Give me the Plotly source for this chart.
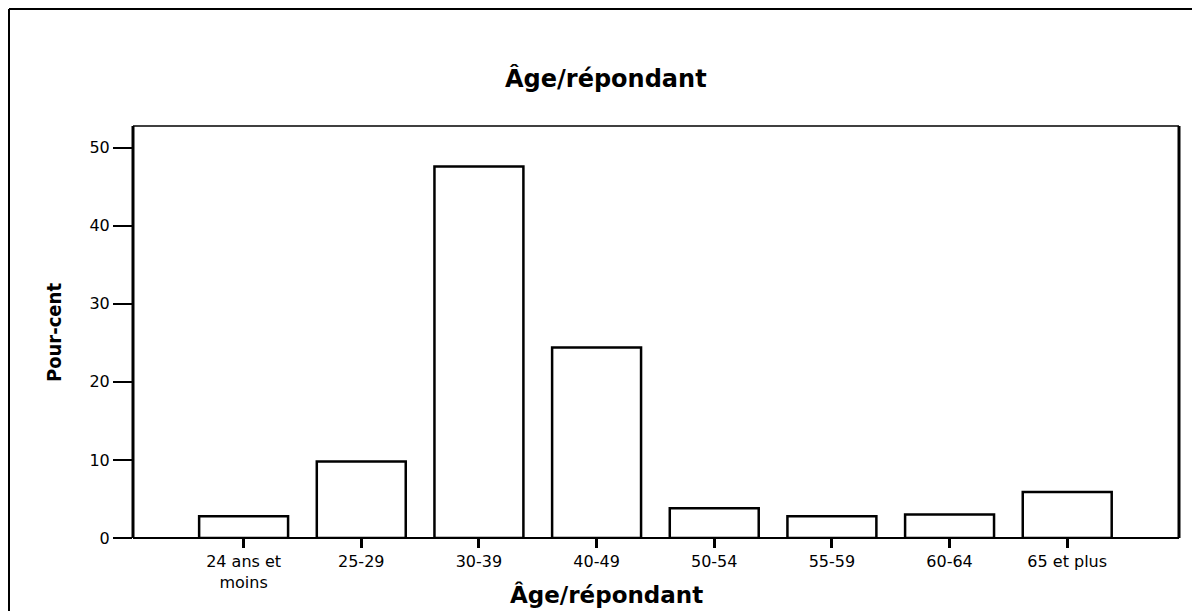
import plotly.graph_objects as go

categories = ["24 ans et<br>moins", "25-29", "30-39", "40-49", "50-54", "55-59", "60-64", "65 et plus"]
values = [2.8, 9.8, 47.6, 24.4, 3.8, 2.8, 3.0, 5.9]
y_ticks = [0, 10, 20, 30, 40, 50]

OFF = 8  # page body margin offset
W, H = 1200 - OFF, 611 - OFF
L, R, T, B = 133 - OFF, 1179 - OFF, 126 - OFF, 538 - OFF  # plot area pixel bounds in figure coords

def px(x):
    return (x - OFF - L) / (R - L)

def py(y):
    return (B - (y - OFF)) / (B - T)

fig = go.Figure()
fig.add_trace(go.Bar(
    x=list(range(len(categories))),
    y=values,
    marker=dict(color="white", line=dict(color="black", width=2.5)),
    showlegend=False,
))

font_family = "DejaVu Sans, Liberation Sans, Arial, sans-serif"

fig.update_layout(
    width=W, height=H,
    margin=dict(l=L, r=W - R, t=T, b=H - B),
    paper_bgcolor="white", plot_bgcolor="white",
    bargap=0.244,
    font=dict(family=font_family, size=16, color="black"),
    xaxis=dict(
        tickmode="array",
        tickvals=list(range(len(categories))),
        ticktext=categories,
        range=[-0.94, 7.95],
        showgrid=False, zeroline=False,
        showline=False,
        ticks="outside", ticklen=9, tickwidth=2.5, tickcolor="black",
        tickfont=dict(size=16, family=font_family),
    ),
    yaxis=dict(
        range=[0, 52.78],
        tickmode="array",
        tickvals=y_ticks,
        showgrid=False, zeroline=False,
        showline=False,
        ticks="outside", ticklen=19, tickwidth=1.5, tickcolor="black",
        tickfont=dict(size=16, family=font_family),
    ),
    shapes=[
        # plot frame
        dict(type="line", xref="paper", yref="paper", x0=0, x1=1, y0=1, y1=1,
             line=dict(color="black", width=1.5)),
        dict(type="line", xref="paper", yref="paper", x0=0, x1=0, y0=0, y1=1,
             line=dict(color="black", width=3)),
        dict(type="line", xref="paper", yref="paper", x0=1, x1=1, y0=0, y1=1,
             line=dict(color="black", width=3)),
        dict(type="line", xref="paper", yref="paper", x0=0, x1=1, y0=0, y1=0,
             line=dict(color="black", width=2)),
        # outer border
        dict(type="line", xref="paper", yref="paper", x0=px(9), x1=px(1215), y0=py(9), y1=py(9),
             line=dict(color="black", width=2)),
        dict(type="line", xref="paper", yref="paper", x0=px(9), x1=px(9), y0=py(9), y1=py(630),
             line=dict(color="black", width=2)),
    ],
    annotations=[
        dict(text="<b>Âge/répondant</b>", xref="paper", yref="paper",
             x=px(606), y=py(78), xanchor="center", yanchor="middle",
             showarrow=False, font=dict(size=24, family=font_family)),
        dict(text="<b>Âge/répondant</b>", xref="paper", yref="paper",
             x=px(606), y=py(594), xanchor="center", yanchor="middle",
             showarrow=False, font=dict(size=23, family=font_family)),
        dict(text="<b>Pour-cent</b>", xref="paper", yref="paper",
             x=px(54), y=py(333), xanchor="center", yanchor="middle", textangle=-90,
             showarrow=False,
             font=dict(size=20, family="DejaVu Sans Condensed, Liberation Sans Narrow, DejaVu Sans, sans-serif")),
    ],
)

fig.write_html("out.html")
